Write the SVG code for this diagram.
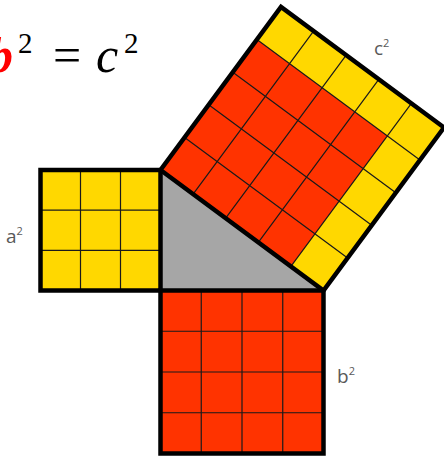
<svg xmlns="http://www.w3.org/2000/svg" width="444" height="457" viewBox="0 0 444 457">
<style>
.yel{fill:#FFD800}
.red{fill:#FF3300}
.tri{fill:#A6A6A6}
.edge{fill:none;stroke:#000;stroke-width:4.5;stroke-linejoin:miter}
.grid{stroke:#1a1a1a;stroke-width:1.2;fill:none}
.lbl{font-family:"Open Sans","DejaVu Sans",sans-serif;font-size:19px;fill:#595959}
.sup{font-size:11px}
.eq{font-family:"Liberation Serif","DejaVu Serif",serif;font-size:50px;fill:#000}
</style>
<g id="equation">
<text class="eq" x="-12" y="72" fill="#FF0000" style="fill:#FF0000;font-weight:bold;font-style:italic">b</text>
<text class="eq" x="18" y="53" style="font-size:29px">2</text>
<text class="eq" x="53" y="72">=</text>
<text class="eq" x="96" y="72" style="font-style:italic">c</text>
<text class="eq" x="124" y="53" style="font-size:29px">2</text>
</g>
<g id="triangle">
<polygon class="tri" points="160.5,170 323.5,290.5 160.5,290.5"/>
</g>
<g id="square-a">
<rect class="yel" x="40.5" y="170" width="120" height="120.5"/>
<path class="grid" d="M80.5,170V290.5M120.5,170V290.5M40.5,210.2H160.5M40.5,250.3H160.5"/>
<rect class="edge" x="40.5" y="170" width="120" height="120.5"/>
<text class="lbl" x="6" y="243">a<tspan class="sup" dy="-8">2</tspan></text>
</g>
<g id="square-b">
<rect class="red" x="160.5" y="290.5" width="163" height="163"/>
<path class="grid" d="M201.25,290.5V453.5M242,290.5V453.5M282.75,290.5V453.5M160.5,331.25H323.5M160.5,372H323.5M160.5,412.75H323.5"/>
<rect class="edge" x="160.5" y="290.5" width="163" height="163"/>
<text class="lbl" x="337" y="383">b<tspan class="sup" dy="-8">2</tspan></text>
</g>
<g id="square-c">
<polygon class="yel" points="160.5,170 323.5,290.5 444,127.5 281,7"/>
<polygon class="red" points="160.5,170 290.9,266.4 387.3,136 256.9,39.6"/>
<path class="grid" d="M193.1,194.1L313.6,31.1M225.7,218.2L346.2,55.2M258.3,242.3L378.8,79.3M290.9,266.4L411.4,103.4M184.6,137.4L347.6,257.9M208.7,104.8L371.7,225.3M232.8,72.2L395.8,192.7M256.9,39.6L419.9,160.1"/>
<polygon class="edge" points="160.5,170 323.5,290.5 444,127.5 281,7"/>
<text class="lbl" x="374" y="55">c<tspan class="sup" dy="-8">2</tspan></text>
</g>
</svg>
